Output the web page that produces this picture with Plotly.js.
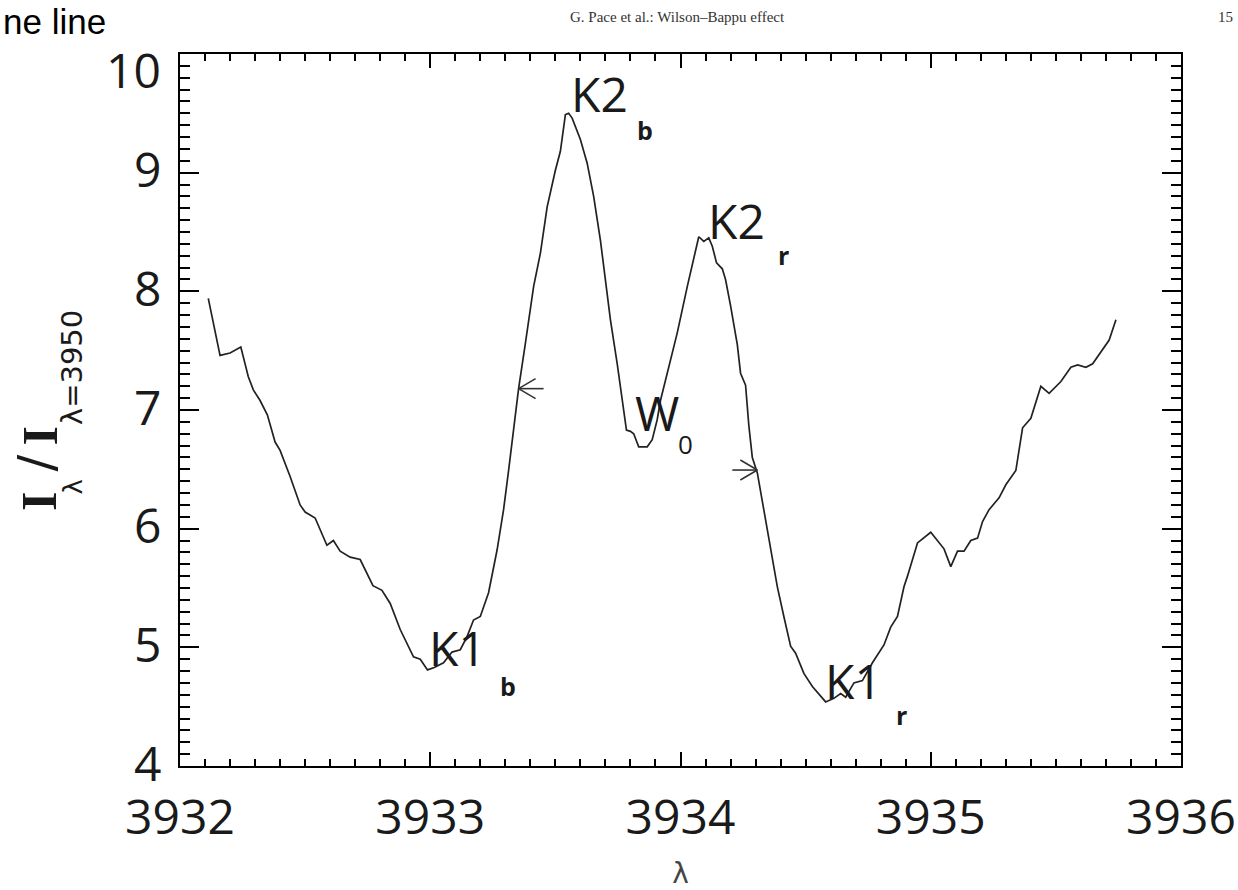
<!DOCTYPE html>
<html><head><meta charset="utf-8">
<script src="https://cdn.plot.ly/plotly-3.0.1.min.js"></script>
<style>html,body{margin:0;padding:0;background:#fff;overflow:hidden}</style>
</head><body><div id="chart" style="width:1238px;height:890px"></div>
<script>
// ---- data ----
const wavelength = [
3932.113,3932.160,3932.200,3932.243,3932.273,3932.293,3932.320,3932.349,3932.380,3932.400,
3932.440,3932.480,3932.500,3932.540,3932.587,3932.613,3932.640,3932.680,3932.720,3932.771,
3932.807,3932.840,3932.880,3932.933,3932.960,3932.989,3933.016,3933.053,3933.087,3933.120,
3933.147,3933.173,3933.200,3933.213,3933.233,3933.267,3933.293,3933.313,3933.324,3933.353,
3933.380,3933.413,3933.440,3933.467,3933.500,3933.520,3933.540,3933.553,3933.567,3933.600,
3933.627,3933.653,3933.680,3933.700,3933.720,3933.747,3933.773,3933.784,3933.800,3933.813,
3933.833,3933.867,3933.887,3933.907,3933.920,3933.947,3933.987,3934.027,3934.073,3934.093,
3934.113,3934.127,3934.144,3934.167,3934.180,3934.200,3934.227,3934.240,3934.260,3934.273,
3934.287,3934.307,3934.333,3934.360,3934.387,3934.413,3934.440,3934.460,3934.493,3934.527,
3934.580,3934.613,3934.640,3934.660,3934.693,3934.727,3934.767,3934.813,3934.840,3934.867,
3934.893,3934.907,3934.947,3935.000,3935.053,3935.080,3935.107,3935.133,3935.160,3935.187,
3935.207,3935.233,3935.273,3935.300,3935.340,3935.367,3935.400,3935.440,3935.473,3935.520,
3935.560,3935.587,3935.620,3935.647,3935.687,3935.713,3935.740];
const intensity = [
7.94,7.46,7.48,7.53,7.28,7.17,7.08,6.96,6.73,6.66,
6.44,6.20,6.14,6.09,5.86,5.90,5.81,5.76,5.74,5.52,
5.48,5.37,5.15,4.92,4.90,4.81,4.83,4.87,4.96,4.98,
5.09,5.23,5.26,5.34,5.46,5.82,6.16,6.49,6.68,7.18,
7.56,8.04,8.32,8.71,9.02,9.18,9.49,9.50,9.46,9.28,
9.08,8.80,8.43,8.10,7.76,7.39,6.97,6.83,6.82,6.80,
6.69,6.69,6.75,6.92,7.08,7.31,7.65,8.04,8.46,8.42,
8.45,8.38,8.24,8.19,8.10,7.88,7.55,7.31,7.21,6.87,
6.60,6.47,6.16,5.82,5.51,5.26,5.01,4.95,4.78,4.67,
4.54,4.57,4.61,4.58,4.70,4.72,4.87,5.02,5.17,5.26,
5.51,5.60,5.88,5.97,5.83,5.68,5.81,5.81,5.90,5.92,
6.06,6.16,6.26,6.37,6.49,6.85,6.93,7.20,7.14,7.24,
7.36,7.38,7.36,7.39,7.51,7.59,7.76];
const xTickVals = [3932, 3933, 3934, 3935, 3936];
const xTickText = ['3932', '3933', '3934', '3935', '3936'];
const yTickVals = [4, 5, 6, 7, 8, 9, 10];
const yTickText = ['4', '5', '6', '7', '8', '9', '10'];
const featureNames = ['K2', 'K2', 'W', 'K1', 'K1'];
const featureSubs  = ['b', 'r', '0', 'b', 'r'];

// ---- placement (positions / styles, not data) ----
const featureLabelPos = [[3933.675, 9.67], [3934.225, 8.60], [3933.905, 6.98], [3933.11, 5.00], [3934.69, 4.72]];
const featureSubPos   = [[3933.86, 9.36], [3934.41, 8.31], [3934.018, 6.71], [3933.31, 4.67], [3934.884, 4.43]];
const arrowTip = [[3933.353, 7.18, 1], [3934.307, 6.494, -1]]; // +1 tail to the right, -1 tail to the left

const ink = '#1a1a1a';
const tickFont = {family: 'Open Sans, DejaVu Sans, sans-serif', size: 48, color: ink};

const annotations = [];
featureNames.forEach((t, i) => {
  annotations.push({xref: 'x', yref: 'y', x: featureLabelPos[i][0], y: featureLabelPos[i][1], text: t,
    showarrow: false, xanchor: 'center', yanchor: 'middle',
    font: {family: 'Open Sans, DejaVu Sans, sans-serif', size: 48, color: ink}});
  annotations.push({xref: 'x', yref: 'y', x: featureSubPos[i][0], y: featureSubPos[i][1], text: featureSubs[i],
    showarrow: false, xanchor: 'center', yanchor: 'middle',
    font: {family: 'Open Sans, DejaVu Sans, sans-serif', size: featureSubs[i] === '0' ? 26 : 25,
      weight: featureSubs[i] === '0' ? 400 : 700, color: ink}});
});

// the top y tick label sits lower than its tick in the reference; draw it as a label below the frame top
const topLabelIndex = yTickVals.length - 1;
const yTickTextShown = yTickText.map((t, i) => i === topLabelIndex ? '' : t);
annotations.push({xref: 'paper', yref: 'y', x: 0, y: yTickVals[topLabelIndex], xshift: -17, yshift: -15,
  xanchor: 'right', yanchor: 'middle', showarrow: false, text: yTickText[topLabelIndex], font: tickFont});

// y-axis title pieces (rotated): I_λ / I_λ=3950 ; positions in pixels relative to plot corner
const L = 180, B = 766;
const yTitle = [
  {text: 'I', cx: 39, cy: 502, font: {family: 'Liberation Serif, serif', size: 50, weight: 700, color: ink}},
  {text: 'λ', cx: 72, cy: 487.5, font: {family: 'DejaVu Sans, sans-serif', size: 26, color: ink}},
  {text: '/', cx: 35, cy: 463.5, font: {family: 'DejaVu Sans, sans-serif', size: 50, color: ink}},
  {text: 'I', cx: 39, cy: 436.5, font: {family: 'Liberation Serif, serif', size: 50, weight: 700, color: ink}},
  {text: 'λ=3950', cx: 72, cy: 368, font: {family: 'DejaVu Sans, sans-serif', size: 29, color: ink}}
];
yTitle.forEach(p => annotations.push({xref: 'paper', yref: 'paper', x: 0, y: 0,
  xshift: p.cx - L, yshift: B - p.cy, text: p.text, textangle: -90, showarrow: false,
  xanchor: 'center', yanchor: 'middle', font: p.font}));

// page header fragments of the scanned figure
annotations.push({xref: 'paper', yref: 'paper', x: 0, y: 1, xshift: 1 - L, yshift: 54,
  xanchor: 'left', yanchor: 'top', showarrow: false, text: 'ne line',
  font: {family: 'Liberation Sans, Arial, sans-serif', size: 35, color: '#000'}});
annotations.push({xref: 'paper', yref: 'paper', x: 0, y: 1, xshift: 677 - L, yshift: 54 - 17,
  xanchor: 'center', yanchor: 'middle', showarrow: false, text: 'G. Pace et al.: Wilson–Bappu effect',
  font: {family: 'Liberation Serif, serif', size: 15, color: '#333'}});
annotations.push({xref: 'paper', yref: 'paper', x: 0, y: 1, xshift: 1225 - L, yshift: 54 - 17,
  xanchor: 'center', yanchor: 'middle', showarrow: false, text: '15',
  font: {family: 'Liberation Serif, serif', size: 15, color: '#333'}});

// arrows as pixel-sized line shapes anchored on data points
const shapes = [];
arrowTip.forEach(a => {
  const d = a[2];
  const seg = [[0, 0, 25 * d, 0], [0, 0, 17 * d, 10], [0, 0, 17 * d, -10]];
  seg.forEach(s => shapes.push({type: 'line', xref: 'x', yref: 'y',
    xsizemode: 'pixel', xanchor: a[0], ysizemode: 'pixel', yanchor: a[1],
    x0: s[0], y0: s[1], x1: s[2], y1: s[3], line: {color: '#333', width: 1.6}}));
});

const trace = {x: wavelength, y: intensity, type: 'scatter', mode: 'lines',
  line: {color: '#222', width: 1.7}, hoverinfo: 'skip', showlegend: false};

const axisCommon = {showline: true, linecolor: '#000', linewidth: 2, mirror: 'ticks',
  ticks: 'inside', tickcolor: '#000', tickwidth: 2, showgrid: false, zeroline: false,
  tickfont: tickFont, fixedrange: true};

const layout = {
  width: 1238, height: 890,
  margin: {l: L, r: 1238 - 1181, t: 54, b: 890 - B, pad: 0},
  paper_bgcolor: '#fff', plot_bgcolor: '#fff',
  showlegend: false,
  xaxis: Object.assign({}, axisCommon, {range: [3932, 3936], tickvals: xTickVals, ticktext: xTickText,
    ticklen: 14, ticklabelstandoff: 8,
    minor: {dtick: 0.1, tick0: 3932, ticks: 'inside', ticklen: 7, tickwidth: 2, tickcolor: '#000'},
    title: {text: 'λ', font: {family: 'DejaVu Sans, sans-serif', size: 28, color: '#444'}, standoff: 30}}),
  yaxis: Object.assign({}, axisCommon, {range: [4, 10], tickvals: yTickVals, ticktext: yTickTextShown,
    ticklen: 19, ticklabelstandoff: 7, ticklabelshift: -2,
    minor: {dtick: 0.1, tick0: 4, ticks: 'inside', ticklen: 10, tickwidth: 2, tickcolor: '#000'}}),
  annotations: annotations,
  shapes: shapes
};

Plotly.newPlot('chart', [trace], layout, {staticPlot: true, displayModeBar: false});
</script>
</body></html>
